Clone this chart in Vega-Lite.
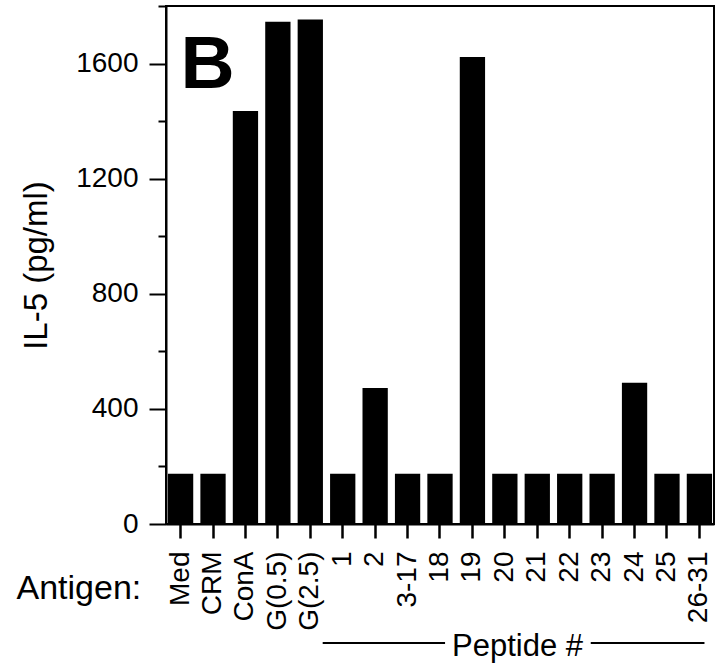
{
  "$schema": "https://vega.github.io/schema/vega-lite/v6.json",
  "padding": {"left": 15, "top": 4, "right": 5, "bottom": 5},
  "background": "white",
  "bounds": "flush",
  "spacing": 109,
  "config": {
    "font": "Liberation Sans",
    "view": {"stroke": null},
    "axis": {
      "labelColor": "black",
      "titleColor": "black",
      "domainColor": "black",
      "tickColor": "black",
      "labelFont": "Liberation Sans",
      "titleFont": "Liberation Sans",
      "grid": false
    }
  },
  "vconcat": [
    {
      "width": 548,
      "height": 518,
      "view": {"stroke": "black", "strokeWidth": 2},
      "data": {
        "values": [
          {"antigen": "Med", "il5": 175},
          {"antigen": "CRM", "il5": 175},
          {"antigen": "ConA", "il5": 1435},
          {"antigen": "G(0.5)", "il5": 1745},
          {"antigen": "G(2.5)", "il5": 1753},
          {"antigen": "1", "il5": 175},
          {"antigen": "2", "il5": 473},
          {"antigen": "3-17", "il5": 175},
          {"antigen": "18", "il5": 175},
          {"antigen": "19", "il5": 1623},
          {"antigen": "20", "il5": 175},
          {"antigen": "21", "il5": 175},
          {"antigen": "22", "il5": 175},
          {"antigen": "23", "il5": 175},
          {"antigen": "24", "il5": 491},
          {"antigen": "25", "il5": 175},
          {"antigen": "26-31", "il5": 175}
        ]
      },
      "layer": [
        {
          "mark": {"type": "bar", "color": "black"},
          "encoding": {
            "x": {
              "field": "antigen",
              "type": "nominal",
              "sort": null,
              "scale": {
                "domain": ["Med", "CRM", "ConA", "G(0.5)", "G(2.5)", "1", "2", "3-17", "18", "19", "20", "21", "22", "23", "24", "25", "26-31"],
                "paddingInner": 0.22,
                "paddingOuter": 0.06
              },
              "axis": {
                "title": "Antigen:",
                "titleFontSize": 34,
                "titleFontWeight": "normal",
                "titleAngle": 0,
                "titleAlign": "left",
                "titleBaseline": "alphabetic",
                "titleX": -150,
                "titleY": 74,
                "labelAngle": -90,
                "labelAlign": "right",
                "labelBaseline": "middle",
                "labelFontSize": 28,
                "labelPadding": 13,
                "labelOverlap": false,
                "labelBound": false,
                "tickSize": 14,
                "tickWidth": 2.5,
                "domainWidth": 2
              }
            },
            "y": {
              "field": "il5",
              "type": "quantitative",
              "scale": {"domain": [0, 1800], "nice": false},
              "axis": {
                "title": "IL-5 (pg/ml)",
                "titleFontSize": 33,
                "titleFontWeight": "normal",
                "titlePadding": 22,
                "values": [0, 100, 200, 300, 400, 500, 600, 700, 800, 900, 1000, 1100, 1200, 1300, 1400, 1500, 1600, 1700, 1800],
                "format": "d",
                "labelExpr": "datum.value % 400 === 0 ? datum.label : ''",
                "labelFontSize": {"condition": {"test": "datum.value % 400 === 0", "value": 28}, "value": 1},
                "labelPadding": 11,
                "labelOverlap": false,
                "tickSize": {"condition": {"test": "datum.value % 400 === 0", "value": 17}, "value": 8},
                "tickWidth": 2,
                "domainWidth": 2
              }
            }
          }
        },
        {
          "data": {"values": [{"antigen": "Med", "il5": 1515, "panel": "B"}]},
          "mark": {"type": "text", "align": "left", "baseline": "alphabetic", "fontSize": 75, "fontWeight": "bold", "color": "black"},
          "encoding": {
            "x": {"field": "antigen", "type": "nominal"},
            "y": {"field": "il5", "type": "quantitative"},
            "text": {"field": "panel"}
          }
        }
      ]
    },
    {
      "width": 548,
      "height": 20,
      "layer": [
        {
          "data": {"values": [{"from": "G(2.5)", "to": "18"}]},
          "mark": {"type": "rule", "color": "black", "strokeWidth": 2},
          "encoding": {
            "x": {
              "field": "from",
              "type": "nominal",
              "bandPosition": 0.99,
              "scale": {
                "domain": ["Med", "CRM", "ConA", "G(0.5)", "G(2.5)", "1", "2", "3-17", "18", "19", "20", "21", "22", "23", "24", "25", "26-31"],
                "paddingInner": 0.22,
                "paddingOuter": 0.06
              },
              "axis": null
            },
            "x2": {"field": "to", "bandPosition": 0.7}
          }
        },
        {
          "data": {"values": [{"from": "23", "to": "26-31"}]},
          "mark": {"type": "rule", "color": "black", "strokeWidth": 2},
          "encoding": {
            "x": {"field": "from", "type": "nominal", "bandPosition": 0.05, "axis": null},
            "x2": {"field": "to", "bandPosition": 0.7}
          }
        },
        {
          "data": {"values": [{"label": "Peptide #", "at": "20"}]},
          "mark": {"type": "text", "fontSize": 31, "baseline": "middle", "dy": 4, "color": "black"},
          "encoding": {
            "x": {"field": "at", "type": "nominal", "bandPosition": 1, "axis": null},
            "text": {"field": "label"}
          }
        }
      ]
    }
  ]
}
